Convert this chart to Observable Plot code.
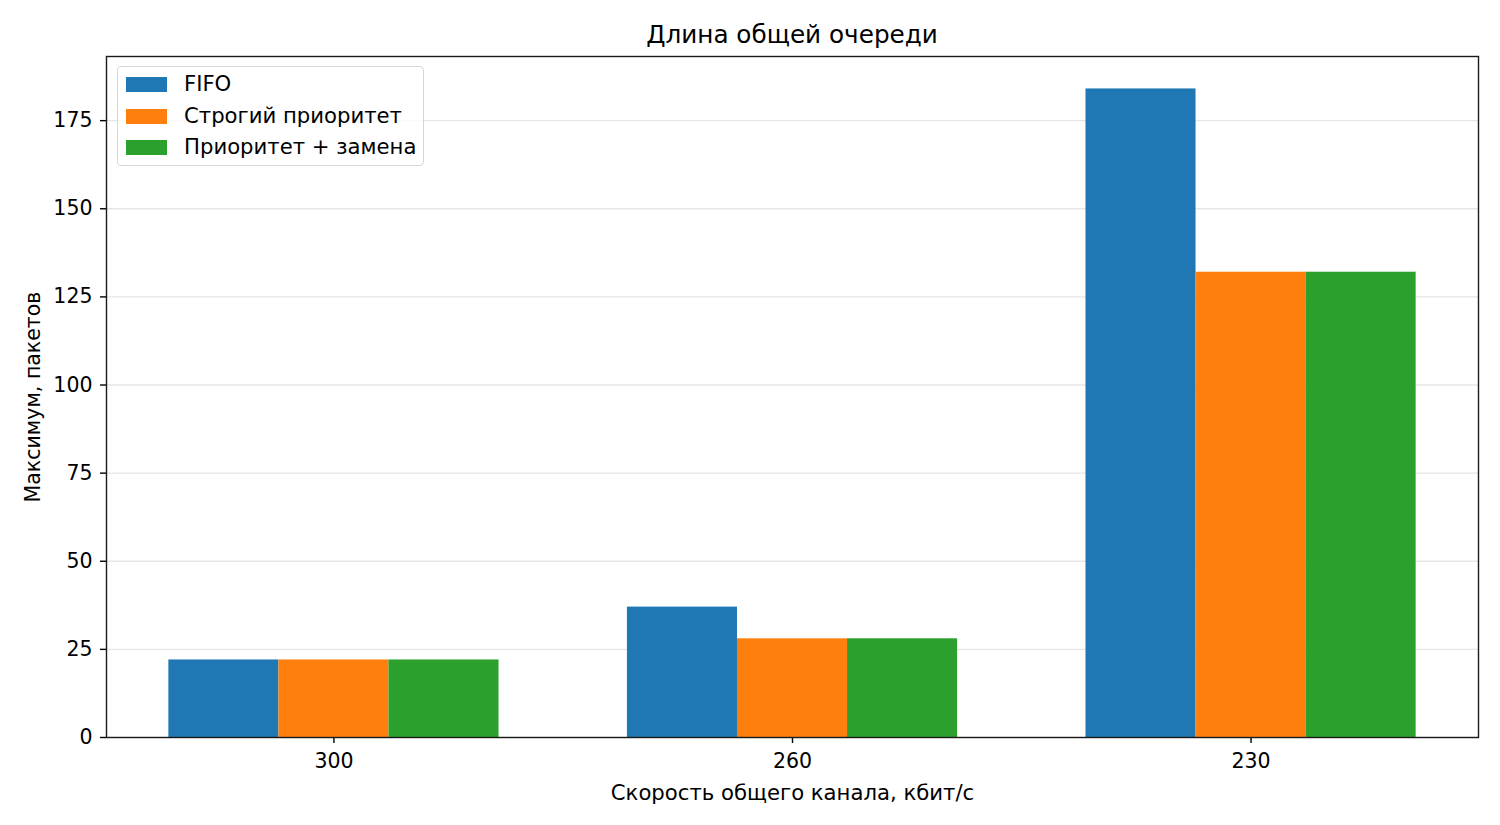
<!DOCTYPE html>
<html>
<head>
<meta charset="utf-8">
<script src="https://cdn.jsdelivr.net/npm/d3@7"></script>
<script src="https://cdn.jsdelivr.net/npm/@observablehq/plot@0.6"></script>
<style>
  html, body { margin: 0; padding: 0; background: #fff; }
  body { font-family: "DejaVu Sans", sans-serif; }
  #wrap { position: relative; width: 1500px; height: 825px; }
  #title { position: absolute; left: 106px; width: 1372px; top: 20px; text-align: center; font-size: 24.7px; line-height: 30px; color: #000; }
  #legend { position: absolute; left: 117px; top: 66px; width: 305px; height: 98px; border: 1.5px solid #d6d6d6; border-radius: 4px; background: rgba(255,255,255,0.8); }
  .item { position: absolute; left: 0; height: 20px; }
  .sw { position: absolute; left: 8px; top: 2px; width: 41px; height: 15px; }
  .lbl { position: absolute; left: 66px; top: -3px; font-size: 21.2px; line-height: 24px; white-space: nowrap; color: #000; }
</style>
</head>
<body>
<div id="wrap">
  <div id="chart"></div>
  <div id="title"></div>
  <div id="legend"></div>
</div>
<script>
const titleText = "Длина общей очереди";
const xLabel = "Скорость общего канала, кбит/с";
const yLabel = "Максимум, пакетов";
const speeds = ["300", "260", "230"];
const methods = ["FIFO", "Строгий приоритет", "Приоритет + замена"];
const fifoValues = [22, 37, 184];
const strictValues = [22, 28, 132];
const replaceValues = [22, 28, 132];
const yTicks = [0, 25, 50, 75, 100, 125, 150, 175];
const colors = ["#1f77b4", "#ff7f0e", "#2ca02c"];

const series = [fifoValues, strictValues, replaceValues];
const barW = 0.24;
const rows = [];
speeds.forEach((s, i) => {
  methods.forEach((m, j) => {
    const c = i + (j - 1) * barW;
    rows.push({speed: s, method: m, value: series[j][i], x1: c - barW / 2, x2: c + barW / 2});
  });
});
const xMin = -1 * barW - barW / 2, xMax = (speeds.length - 1) + barW + barW / 2;
const xPad = (xMax - xMin) * 0.05;
const yMax = d3.max(series.flat()) * 1.05;

const chart = Plot.plot({
  width: 1500,
  height: 825,
  marginLeft: 106,
  marginRight: 22,
  marginTop: 56,
  marginBottom: 88,
  style: {fontFamily: "DejaVu Sans, sans-serif", fontSize: "20.5px", color: "#000", background: "#fff"},
  x: {domain: [xMin - xPad, xMax + xPad]},
  y: {domain: [0, yMax]},
  color: {domain: methods, range: colors},
  marks: [
    Plot.gridY(yTicks, {stroke: "#e6e6e6", strokeOpacity: 1, strokeWidth: 1.4}),
    Plot.rectY(rows, {x1: "x1", x2: "x2", y: "value", fill: "method"}),
    Plot.axisX(d3.range(speeds.length), {tickFormat: i => speeds[i], tickSize: 6, tickPadding: 10, strokeWidth: 1.4, label: null}),
    Plot.axisX({ticks: [], tickSize: 0, label: xLabel, labelAnchor: "center", labelArrow: "none", labelOffset: 62, fontSize: 21.2}),
    Plot.axisY(yTicks, {tickSize: 6, tickPadding: 8, strokeWidth: 1.4, label: yLabel, labelAnchor: "center", labelArrow: "none", labelOffset: 81, fontSize: 20.5}),
    Plot.frame({stroke: "#1a1a1a", strokeWidth: 1.4})
  ]
});
document.getElementById("chart").appendChild(chart);
document.getElementById("title").textContent = titleText;

const legend = document.getElementById("legend");
methods.forEach((m, j) => {
  const it = document.createElement("div");
  it.className = "item";
  it.style.top = (8 + j * 31.5) + "px";
  const sw = document.createElement("div");
  sw.className = "sw";
  sw.style.background = colors[j];
  const lb = document.createElement("div");
  lb.className = "lbl";
  lb.textContent = m;
  it.appendChild(sw); it.appendChild(lb);
  legend.appendChild(it);
});
</script>
</body>
</html>
